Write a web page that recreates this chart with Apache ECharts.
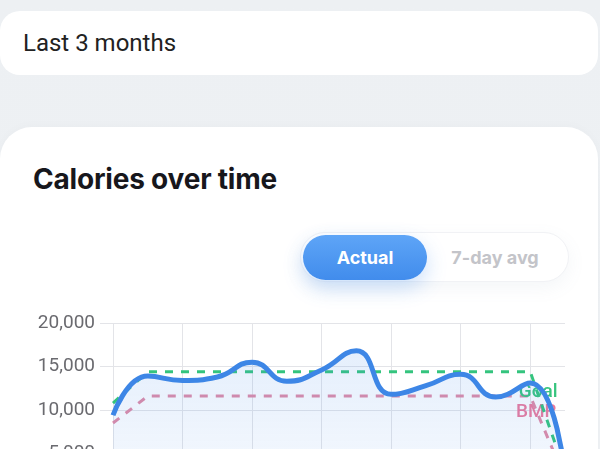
<!DOCTYPE html>
<html>
<head>
<meta charset="utf-8">
<script src="https://cdn.jsdelivr.net/npm/echarts@6/dist/echarts.min.js"></script>
<style>
  html, body { margin:0; padding:0; width:600px; height:449px; overflow:hidden; }
  body { background: linear-gradient(180deg,#edf0f3 0%,#eef1f4 100%); font-family: Roboto, "Noto Sans", sans-serif; position:relative; }
  .card1 { position:absolute; left:0; top:11px; width:598px; height:64px; background:#fff; border-radius:20px; }
  .card1 span { position:absolute; left:23px; top:0; line-height:64px; font-size:24px; color:#222; font-family: Roboto, sans-serif; }
  .card2 { position:absolute; left:0; top:127px; width:598px; height:400px; background:#fff; border-radius:32px; box-shadow:0 -2px 10px rgba(0,0,0,0.02); }
  .title { position:absolute; left:33px; top:165px; line-height:28px; font-family: Inter, sans-serif; font-weight:700; font-size:28px; color:#17171c; letter-spacing:-0.2px; }
  .seg { position:absolute; left:300px; top:232px; width:269px; height:50px; border-radius:25px; background:#fff; border:1px solid #f1f2f5; box-sizing:border-box; box-shadow:0 6px 18px rgba(120,140,170,0.08); }
  .pill { position:absolute; left:303px; top:235px; width:124px; height:45px; border-radius:23px; background:linear-gradient(180deg,#5ea5f7 0%,#418cec 100%); box-shadow:0 8px 20px rgba(66,140,236,0.28); color:#fff; font-family: Inter, sans-serif; font-weight:700; font-size:18px; text-align:center; line-height:45px; }
  .avg { position:absolute; left:430px; top:235px; width:130px; height:45px; color:#c3c4c9; font-family: Inter, sans-serif; font-weight:700; font-size:18px; text-align:center; line-height:45px; }
  #chart { position:absolute; left:0; top:0; width:600px; height:560px; }
</style>
</head>
<body>
<div class="card1"><span>Last 3 months</span></div>
<div class="card2"></div>
<div class="title">Calories over time</div>
<div class="seg"></div>
<div class="pill">Actual</div>
<div class="avg">7-day avg</div>
<div id="chart"></div>
<script>
const weeks = ['W1','W2','W3','W4','W5','W6','W7','W8','W9','W10','W11','W12','W13','W14'];
const actual = [9400, 13900, 13400, 13800, 15500, 13300, 14600, 16800, 11800, 12800, 14100, 11500, 13100, 2600];
const goal = [10800, 14400, 14400, 14400, 14400, 14400, 14400, 14400, 14400, 14400, 14400, 14400, 14400, 2900];
const bmr = [8500, 11600, 11600, 11600, 11600, 11600, 11600, 11600, 11600, 11600, 11600, 11600, 11600, 2100];
const yTicks = [0, 5000, 10000, 15000, 20000];
const goalLabel = 'Goal';
const bmrLabel = 'BMR';
const labelIndex = 12;

function withLabel(arr, text, color, offset) {
  return arr.map((v, i) => i === labelIndex ? {
    value: v,
    label: { show: true, formatter: text, position: 'inside', offset: offset,
      color: color, fontSize: 19, fontFamily: 'Roboto, sans-serif', fontWeight: 500 }
  } : v);
}

const chart = echarts.init(document.getElementById('chart'), null, { renderer: 'canvas' });
chart.setOption({
  backgroundColor: 'transparent',
  animation: false,
  grid: { left: 113, top: 323, right: 35, height: 174 },
  xAxis: {
    type: 'category', data: weeks, boundaryGap: false,
    axisLine: { show: false }, axisTick: { show: false }, axisLabel: { show: false },
    splitLine: { show: true, interval: 1, lineStyle: { color: '#e3e4e8', width: 1 } }
  },
  yAxis: {
    type: 'value', min: yTicks[0], max: yTicks[yTicks.length - 1], interval: 5000,
    axisLine: { show: false },
    axisTick: { show: true, length: 13, lineStyle: { color: '#e3e4e8' } },
    axisLabel: { margin: 18, fontSize: 19, color: '#6a6a6f', fontFamily: 'Roboto, sans-serif',
      formatter: v => v.toLocaleString('en-US') },
    splitLine: { lineStyle: { color: '#e3e4e8', width: 1 } }
  },
  series: [
    {
      name: 'BMR', type: 'line', data: withLabel(bmr, bmrLabel, '#eb7a9d', [6, 16]),
      symbol: 'circle', symbolSize: 0, showSymbol: true, z: 2,
      lineStyle: { color: '#e08aa6', width: 3, type: [8, 8] },
      itemStyle: { color: 'rgba(0,0,0,0)' }
    },
    {
      name: 'Goal', type: 'line', data: withLabel(goal, goalLabel, '#37c47e', [8, 21]),
      symbol: 'circle', symbolSize: 0, showSymbol: true, z: 3,
      lineStyle: { color: '#34c47e', width: 3, type: [8, 8] },
      itemStyle: { color: 'rgba(0,0,0,0)' }
    },
    {
      name: 'Actual', type: 'line', data: actual, smooth: true, showSymbol: false, z: 4,
      lineStyle: { color: '#3d86e6', width: 5 },
      areaStyle: { color: new echarts.graphic.LinearGradient(0, 0, 0, 1, [
        { offset: 0, color: 'rgba(70,140,235,0.2)' },
        { offset: 1, color: 'rgba(70,140,235,0.07)' }
      ]) }
    }
  ]
});
</script>
</body>
</html>
